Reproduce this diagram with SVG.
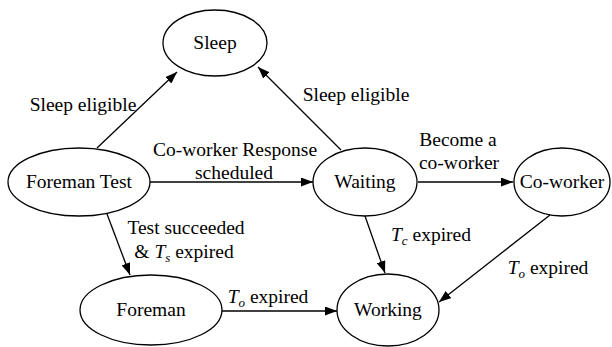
<svg xmlns="http://www.w3.org/2000/svg" width="612" height="347" viewBox="0 0 612 347" font-family="'Liberation Serif', 'Times New Roman', 'DejaVu Serif', serif">
<defs>
<marker id="ah" markerUnits="userSpaceOnUse" markerWidth="13" markerHeight="9" refX="12" refY="4.5" orient="auto">
<path d="M0,0 L12,4.5 L0,9 z" fill="#000"/>
</marker>
<style>
.n ellipse{fill:#fff;stroke:#000;stroke-width:1.3}
text{font-family:'Liberation Serif','Times New Roman','DejaVu Serif',serif;font-size:19.5px;fill:#000}
.c{text-anchor:middle}
.e line{stroke:#000;stroke-width:1.3;marker-end:url(#ah)}
.i{font-style:italic}
.sub{font-size:13px}
</style>
</defs>
<rect width="612" height="347" fill="#fff"/>
<g id="edges" class="e">
<line x1="97" y1="148" x2="177" y2="72"/>
<line x1="341" y1="150" x2="258" y2="67"/>
<line x1="150" y1="182" x2="313" y2="182"/>
<line x1="418" y1="182" x2="513" y2="182"/>
<line x1="107" y1="214" x2="130" y2="275"/>
<line x1="365" y1="216" x2="385" y2="273"/>
<line x1="550" y1="215" x2="439" y2="302"/>
<line x1="222" y1="311" x2="337" y2="311"/>
</g>
<g id="labels">
<text class="c" x="83" y="111">Sleep eligible</text>
<text class="c" x="356" y="101">Sleep eligible</text>
<text class="c" x="235" y="156">Co-worker Response</text>
<text class="c" x="234" y="179">scheduled</text>
<text class="c" x="458" y="146">Become a</text>
<text class="c" x="459" y="169">co-worker</text>
<text class="c" x="186" y="234">Test succeeded</text>
<text class="c" x="184" y="258">&amp; <tspan class="i">T</tspan><tspan class="sub i" dy="4">s</tspan><tspan dy="-4"> expired</tspan></text>
<text class="c" x="431" y="241"><tspan class="i">T</tspan><tspan class="sub i" dy="4">c</tspan><tspan dy="-4"> expired</tspan></text>
<text class="c" x="548" y="274"><tspan class="i">T</tspan><tspan class="sub i" dy="4">o</tspan><tspan dy="-4"> expired</tspan></text>
<text class="c" x="268" y="303"><tspan class="i">T</tspan><tspan class="sub i" dy="4">o</tspan><tspan dy="-4"> expired</tspan></text>
</g>
<g id="sleep" class="n"><ellipse cx="215" cy="43" rx="52" ry="33"/><text class="c" x="215" y="49">Sleep</text></g>
<g id="foreman-test" class="n"><ellipse cx="79" cy="182" rx="71" ry="34"/><text class="c" x="79" y="188">Foreman Test</text></g>
<g id="waiting" class="n"><ellipse cx="365" cy="182" rx="52" ry="34"/><text class="c" x="365" y="188">Waiting</text></g>
<g id="co-worker" class="n"><ellipse cx="562" cy="182" rx="48" ry="34"/><text class="c" x="562" y="188">Co-worker</text></g>
<g id="foreman" class="n"><ellipse cx="151" cy="310" rx="71" ry="35"/><text class="c" x="151" y="316">Foreman</text></g>
<g id="working" class="n"><ellipse cx="388" cy="310" rx="51" ry="36"/><text class="c" x="388" y="316">Working</text></g>
</svg>
